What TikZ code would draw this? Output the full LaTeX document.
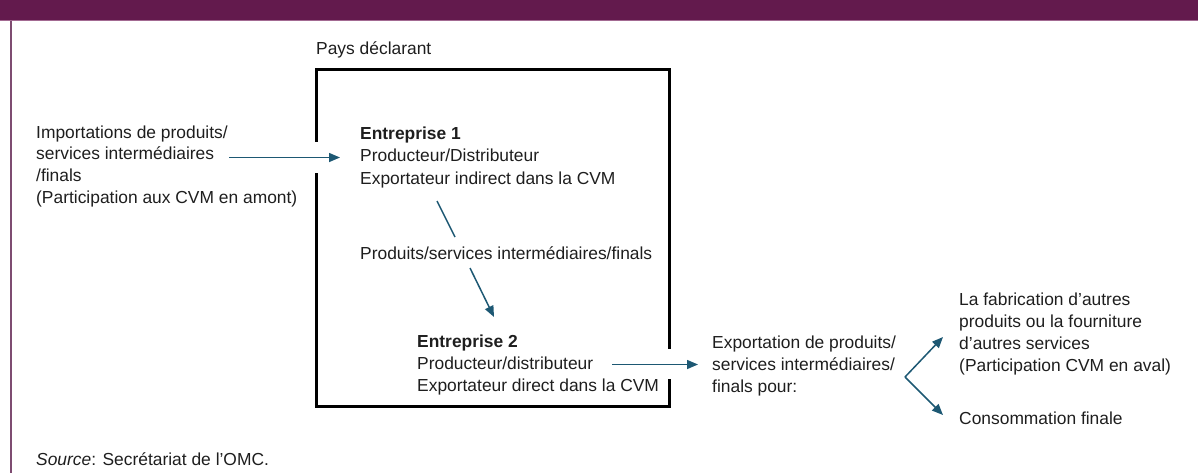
\documentclass[tikz,border=0pt]{standalone}
\usepackage{fontspec}
\setmainfont{Liberation Sans}
\usetikzlibrary{calc,arrows.meta}
\definecolor{hdr}{HTML}{631A4D}
\definecolor{hdrline}{HTML}{A36A92}
\definecolor{frame}{HTML}{7E4C71}
\definecolor{arrc}{HTML}{1D5873}
\definecolor{txtc}{HTML}{1E1E1E}
\tikzset{
  txt/.style={inner sep=0pt, anchor=base west, align=left, text=txtc,
    font=\fontsize{17.4}{22}\selectfont},
  conn/.style={draw=arrc, line width=1.5pt},
  arr/.style={conn, -{Triangle[length=11pt,width=9pt]}},
  boxline/.style={draw=black, line width=3pt, line join=miter}
}
\begin{document}
\begin{tikzpicture}[x=1pt,y=-1pt]
\useasboundingbox (0,0) rectangle (1198,473);
% header and frame
\fill[hdr] (0,0) rectangle (1198,20);
\draw[hdrline, line width=1pt] (0,20.5) -- (1198,20.5);
\draw[frame, line width=1.3pt] (11,21) -- (11,473);
% country box
\draw[boxline] (316,142) -- (316,70) -- (669,70) -- (669,349);
\draw[boxline] (669,379) -- (669,406) -- (316,406) -- (316,173);
% texts (base anchor = baseline of the last line)
\node[txt] (pays) at (316,55) {Pays déclarant};
\node[txt] (imp) at (36,204) {Importations de produits/\\services intermédiaires\\/finals\\(Participation aux CVM en amont)};
\node[txt] (ent1) at (360,184) {\textbf{Entreprise 1}\\Producteur/Distributeur\\Exportateur indirect dans la CVM};
\node[txt] (prod) at (360,259) {Produits/services intermédiaires/finals};
\node[txt] (ent2) at (417,391) {\textbf{Entreprise 2}\\Producteur/distributeur\\Exportateur direct dans la CVM};
\node[txt] (exp) at (712,392) {Exportation de produits/\\services intermédiaires/\\finals pour:};
\node[txt] (fab) at (959,371) {La fabrication d'autres\\produits ou la fourniture\\d'autres services\\(Participation CVM en aval)};
\node[txt] (cons) at (959,424) {Consommation finale};
\node[txt] (src) at (36,465) {\textit{Source}: Secrétariat de l’OMC.};
% connectors
\draw[arr] ($(imp.west |- ent1.west)+(193,0)$) -- ([xshift=-20pt]ent1.west);
\draw[conn] ($(ent1.base west)+(77,17)$) -- ($(prod.base west)+(95,-22)$);
\draw[arr] ($(prod.base west)+(110,9)$) -- ($(ent2.base west)+(77,-74)$);
\draw[arr] ($(ent2.west)+(195,0)$) -- ($(exp.west |- ent2.west)+(-14,0)$);
\coordinate (br) at ($(exp.base west)+(193,-15)$);
\draw[arr] (br) -- ($(fab.base west)+(-16,-34)$);
\draw[arr] (br) -- ($(cons.base west)+(-16,-9)$);
\end{tikzpicture}
\end{document}
